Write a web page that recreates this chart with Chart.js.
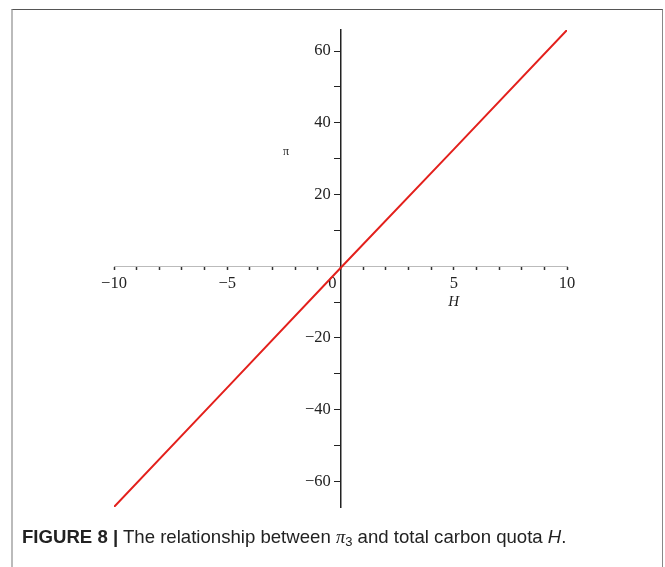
<!DOCTYPE html>
<html><head><meta charset="utf-8">
<script src="https://cdn.jsdelivr.net/npm/chart.js@4.4.0/dist/chart.umd.min.js"></script>
<style>
html,body{margin:0;padding:0;background:#fff;width:665px;height:567px;overflow:hidden;}
#frame{position:absolute;left:11px;top:9px;width:649px;height:620px;border-top:1.5px solid #555;border-left:2px solid #bbb;border-right:1.5px solid #888;}
#wrap{position:absolute;left:0;top:0;width:665px;height:567px;}
#cap{position:absolute;left:22px;top:526px;font-family:"Liberation Sans",Arial,sans-serif;font-size:18.6px;color:#222;white-space:nowrap;}
#cap sub{font-size:13px;vertical-align:-3px;line-height:0;}
</style></head>
<body>
<div id="frame"></div>
<div id="wrap"><canvas id="c" width="665" height="567"></canvas></div>
<div id="cap"><b>FIGURE 8 |</b> The relationship between <i style="font-family:'Liberation Serif',serif">π</i><sub>3</sub> and total carbon quota <i>H</i>.</div>
<script>
// Data
const hValues = [-10, -5, 0, 5, 10];
const piValues = [-67.2, -33.9, -0.5, 32.6, 65.9];
const xLabeledTicks = [-10, -5, 0, 5, 10];
const yLabeledTicks = [-60, -40, -20, 20, 40, 60];
const xMin = -10, xMax = 10, yMin = -67.2, yMax = 65.9;

function fmt(v){ return v < 0 ? '\u2212' + Math.abs(v) : String(v); }

const axisLabels = {
  id: 'axisLabels',
  afterDraw(chart){
    const c = chart.ctx, xs = chart.scales.x, ys = chart.scales.y;
    c.save();
    c.fillStyle = '#222';
    c.textAlign = 'center';
    c.textBaseline = 'middle';
    c.font = 'italic 15px "Liberation Serif", serif';
    c.fillText('H', xs.getPixelForValue(5), ys.getPixelForValue(0) + 36);
    c.font = '12px "Liberation Serif", serif';
    c.fillText('π', xs.getPixelForValue(-2.4), ys.getPixelForValue(32));
    c.restore();
  }
};

new Chart(document.getElementById('c'), {
  type: 'scatter',
  data: { datasets: [{
    data: hValues.map((h, i) => ({x: h, y: piValues[i]})),
    showLine: true, borderColor: '#e3201c', borderWidth: 2, pointRadius: 0, tension: 0, fill: false
  }]},
  options: {
    responsive: false, animation: false,
    layout: { padding: { left: 114, right: 98, top: 30, bottom: 60 } },
    plugins: { legend: { display: false }, tooltip: { enabled: false } },
    scales: {
      x: {
        type: 'linear', position: { y: 0 }, min: xMin, max: xMax,
        afterFit(s){ s.height = 0; },
        ticks: {
          stepSize: 1, autoSkip: false, maxRotation: 0, includeBounds: false, padding: 5,
          color: '#222', font: { family: 'Liberation Serif', size: 16.5 },
          callback: (v) => xLabeledTicks.includes(v) ? (v === 0 ? '0    ' : fmt(v)) : ''
        },
        grid: { drawOnChartArea: false, drawTicks: true, tickLength: 3, tickColor: '#333', tickWidth: 1.5 },
        border: { display: true, color: '#bbb', width: 1 }
      },
      y: {
        type: 'linear', position: { x: 0 }, min: yMin, max: yMax,
        afterFit(s){ s.width = 0; },
        ticks: {
          stepSize: 10, autoSkip: false, includeBounds: false, padding: 4,
          color: '#222', font: { family: 'Liberation Serif', size: 16.5 },
          callback: (v) => yLabeledTicks.includes(v) ? fmt(v) + '  \u200A' : ''
        },
        grid: { drawOnChartArea: false, drawTicks: true, tickLength: 6, tickColor: '#222', tickWidth: 1 },
        border: { display: true, color: '#222', width: 1.5 }
      }
    }
  },
  plugins: [axisLabels]
});
</script>
</body></html>
